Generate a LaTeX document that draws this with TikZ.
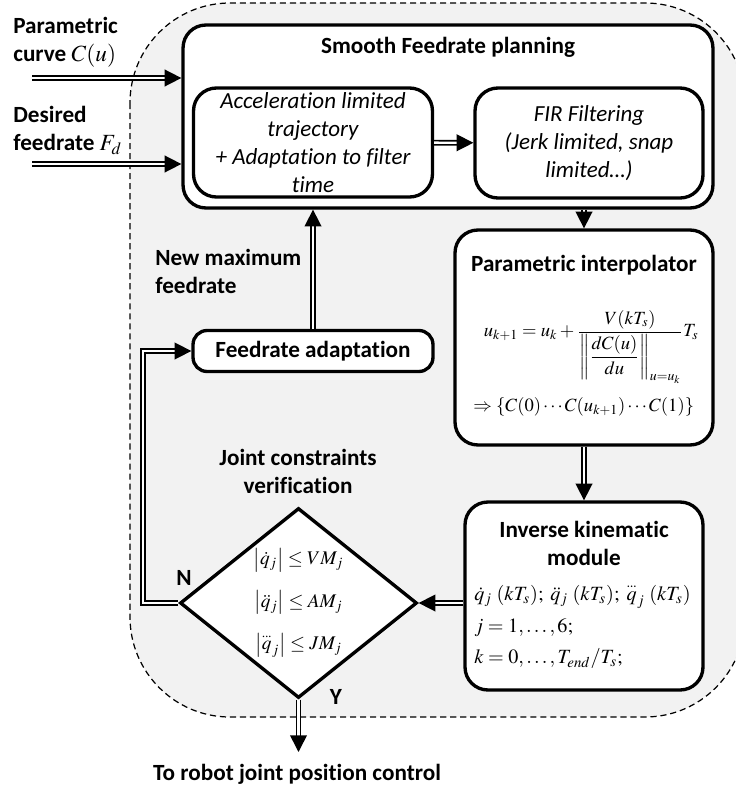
\documentclass[tikz,border=0pt]{standalone}
\usepackage{amsmath}
\usepackage{mathptmx}
\usepackage[no-math]{fontspec}
\setmainfont{Carlito}[Ligatures=NoCommon]
\usetikzlibrary{shapes.geometric,arrows.meta}
\definecolor{bggray}{RGB}{242,242,242}
\newcommand{\tdot}[1]{\overset{\raisebox{-1.7pt}[0pt][0pt]{$\scriptstyle\cdotp\mkern-1mu\cdotp\mkern-1mu\cdotp$}}{#1}}

\begin{document}
\begin{tikzpicture}[x=0.02cm, y=-0.02cm,
    box/.style={draw, line width=1.9pt, rounded corners=13pt, fill=white},
    flow/.style={double, double distance=1.4pt, line width=0.9pt, -{Triangle[length=9.5pt,width=9.5pt]}},
    lbl/.style={font=\fontsize{13.2}{16}\selectfont\bfseries, align=center, inner sep=0pt},
    itl/.style={font=\fontsize{13.1}{16}\selectfont\itshape, align=center, inner sep=0pt},
    eq/.style={font=\fontsize{11}{13}\selectfont, inner sep=0pt}]
    \useasboundingbox (0,0) rectangle (735,791);

    % Background region
    \filldraw[fill=bggray, draw=black, line width=0.7pt, dash pattern=on 3.5pt off 2.2pt,
              rounded corners=2cm] (130,3) rectangle (745,717);

    % Smooth feedrate planning
    \node[box, minimum width=10.6cm, minimum height=3.66cm] (plan) at (448,116.5) {};
    \node[lbl] (plantitle) at (448,47) {Smooth Feedrate planning};
    \node[box, itl, minimum width=4.78cm, minimum height=2.18cm] (accel) at (313,142.5)
        {Acceleration limited\\trajectory\\+ Adaptation to filter\\time};
    \node[box, itl, minimum width=4.56cm, minimum height=2.2cm] (fir) at (589,143)
        {FIR Filtering\\(Jerk limited, snap\\limited…)};
    \draw[flow] (accel) -- (fir);

    % Inputs
    \node[lbl, align=left, anchor=north west] (curve) at (13,16.5) {Parametric\\curve $C(u)$};
    \node[lbl, align=left, anchor=north west] (feed) at (13,106) {Desired\\feedrate $F_d$};
    \coordinate (incurve) at (32,78);
    \coordinate (infeed) at (32,164);
    \draw[flow] (incurve) -- (incurve -| plan.west);
    \draw[flow] (infeed) -- (infeed -| plan.west);

    % Parametric interpolator
    \node[box, minimum width=5.16cm, minimum height=4.3cm] (interp) at (584,337.5) {};
    \node[lbl] (interptitle) at (584,265) {Parametric interpolator};
    \node[eq, font=\fontsize{10.6}{13}\selectfont, align=left, anchor=west] (interpeq) at (473,363)
        {\hspace*{6pt}$\displaystyle u_{k+1}=u_k+\frac{V(kT_s)}{\left\|\dfrac{dC(u)}{du}\right\|_{u=u_k}}T_s$\\[7pt]
         $\Rightarrow\left\{C(0)\cdots C(u_{k+1})\cdots C(1)\right\}$};
    \draw[flow] (interp.north |- plan.south) -- (interp.north);

    % Inverse kinematic module
    \node[box, minimum width=4.76cm, minimum height=3.76cm] (invk) at (584,596) {};
    \node[lbl] (invktitle) at (584,543) {Inverse kinematic\\module};
    \node[eq, font=\fontsize{11.5}{13}\selectfont, align=left, anchor=west] (invkeq) at (474,627)
        {$\dot{q}_j\;(kT_s);\;\ddot{q}_j\;(kT_s);\;\tdot{q}_j\;(kT_s)$\\[5pt]
         $j=1,\ldots,6;$\\[5pt]
         $k=0,\ldots,T_{end}/T_s;$};
    \draw[flow] (interp) -- (invk);

    % Joint constraints verification
    \node[lbl] (checktitle) at (298,471) {Joint constraints\\verification};
    \node[diamond, draw, line width=1.9pt, fill=white, aspect=1.26, inner sep=0pt,
          minimum width=4.74cm, minimum height=3.8cm, eq, align=center] (check) at (298.5,603)
        {$\left|\dot{q}_j\right|\le VM_j$\\[10pt]
         $\left|\ddot{q}_j\right|\le AM_j$\\[10pt]
         $\left|\tdot{q}_j\right|\le JM_j$};
    \draw[flow] (invk.west |- check.east) -- (check.east);

    % Feedrate adaptation loop
    \node[box, lbl, rounded corners=8pt, minimum width=4.8cm, minimum height=0.82cm] (adapt) at (313,351) {Feedrate adaptation};
    \node[lbl, align=left, anchor=north west] (newmax) at (155,249) {New maximum\\feedrate};
    \draw[flow] (adapt) -- (adapt.north |- plan.south);
    \coordinate (nbend) at (143,603);
    \draw[flow] (check.west) -- (nbend) |- (adapt.west);
    \node[lbl] (no) at (184,578) {N};

    % Output
    \node[lbl] (yes) at (336,697) {Y};
    \coordinate (out) at (298.5,752);
    \draw[flow] (check.south) -- (out);
    \node[lbl] (robot) at (297,774) {To robot joint position control};
\end{tikzpicture}
\end{document}
